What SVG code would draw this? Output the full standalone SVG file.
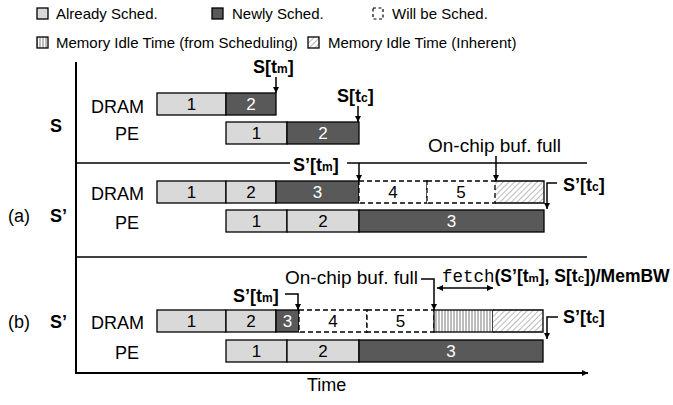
<svg xmlns="http://www.w3.org/2000/svg" width="673" height="405" viewBox="0 0 673 405">
  <defs>
    <marker id="ah" viewBox="0 0 10 10" refX="10" refY="5" markerWidth="7" markerHeight="6" markerUnits="userSpaceOnUse" orient="auto-start-reverse">
      <path d="M0,0 L10,5 L0,10 z" fill="#000"/>
    </marker>
    <pattern id="hatch" width="4" height="4" patternUnits="userSpaceOnUse" patternTransform="rotate(45)">
      <rect width="4" height="4" fill="#fff"/>
      <line x1="0" y1="0" x2="0" y2="4" stroke="#8c8c8c" stroke-width="1.2"/>
    </pattern>
    <pattern id="vstripe" width="3" height="4" patternUnits="userSpaceOnUse">
      <rect width="3" height="4" fill="#fff"/>
      <line x1="1" y1="0" x2="1" y2="4" stroke="#7a7a7a" stroke-width="1"/>
    </pattern>
  </defs>
  <style>
    text { font-family: "Liberation Sans", Arial, sans-serif; fill: #000; }
    .lg { font-size: 15px; }
    .lb { font-size: 18px; }
    .oc { font-size: 19px; }
    .bd { font-weight: bold; }
    .num { font-size: 17px; text-anchor: middle; }
    .wt { fill: #fff; }
    .mono { font-family: "Liberation Mono", "Courier New", monospace; }
    .old { fill: #d9d9d9; stroke: #000; stroke-width: 1.3; }
    .new { fill: #595959; stroke: #000; stroke-width: 1.3; }
    .will { fill: #fff; stroke: #000; stroke-width: 1.3; stroke-dasharray: 5 3; }
    .hat { fill: url(#hatch); stroke: none; }
    .vs { fill: url(#vstripe); stroke: #000; stroke-width: 1.3; }
    .edge { fill: none; stroke: #000; stroke-width: 1.3; }
    .ax { stroke: #000; stroke-width: 2; fill: none; }
    .sep { stroke: #000; stroke-width: 1.5; fill: none; }
    .ar { stroke: #000; stroke-width: 1.5; fill: none; marker-end: url(#ah); }
  </style>

  <!-- legend -->
  <g id="legend">
    <rect x="37" y="8" width="11" height="11" class="old"/>
    <text x="56" y="19" class="lg">Already Sched.</text>
    <rect x="212" y="8" width="11" height="11" class="new"/>
    <text x="232" y="19" class="lg">Newly Sched.</text>
    <rect x="373" y="8" width="10" height="11" fill="#fff" stroke="#000" stroke-width="1.2" stroke-dasharray="3 2.5"/>
    <text x="392" y="19" class="lg">Will be Sched.</text>
    <rect x="37" y="37" width="11" height="11" class="vs"/>
    <text x="56" y="48" class="lg">Memory Idle Time (from Scheduling)</text>
    <rect x="308" y="37" width="11" height="11" fill="url(#hatch)" stroke="#000" stroke-width="1.3"/>
    <text x="328" y="48" class="lg">Memory Idle Time (Inherent)</text>
  </g>

  <!-- frame: time axis, row axis, section dividers -->
  <g id="axes">
    <line x1="76" y1="62" x2="76" y2="373" class="ax"/>
    <line x1="75" y1="373" x2="588" y2="373" class="ax" marker-end="url(#ah)"/>
    <line x1="76" y1="163" x2="587" y2="163" class="sep"/>
    <line x1="76" y1="257" x2="587" y2="257" class="sep"/>
    <text x="307" y="391" class="lb">Time</text>
  </g>

  <!-- row / schedule labels -->
  <g id="row-labels">
    <text x="50" y="132" class="lb bd">S</text>
    <text x="91" y="113" class="lb">DRAM</text>
    <text x="115" y="140" class="lb">PE</text>
    <text x="8" y="222" class="lb">(a)</text>
    <text x="50" y="222" class="lb bd">S’</text>
    <text x="91" y="200" class="lb">DRAM</text>
    <text x="115" y="229" class="lb">PE</text>
    <text x="8" y="328" class="lb">(b)</text>
    <text x="50" y="328" class="lb bd">S’</text>
    <text x="91" y="329" class="lb">DRAM</text>
    <text x="115" y="359" class="lb">PE</text>
  </g>

  <!-- schedule S -->
  <g id="s-dram">
    <rect x="157" y="93" width="69" height="22" class="old"/><text x="191.5" y="110" class="num">1</text>
    <rect x="226" y="93" width="50" height="22" class="new"/><text x="251" y="110" class="num wt">2</text>
  </g>
  <g id="s-pe">
    <rect x="226" y="122" width="61" height="22" class="old"/><text x="256.5" y="139" class="num">1</text>
    <rect x="287" y="122" width="72" height="22" class="new"/><text x="323" y="139" class="num wt">2</text>
  </g>

  <!-- schedule S' (a) -->
  <g id="a-dram">
    <rect x="157" y="181" width="69" height="22" class="old"/><text x="191.5" y="198" class="num">1</text>
    <rect x="226" y="181" width="50" height="22" class="old"/><text x="251" y="198" class="num">2</text>
    <rect x="276" y="181" width="83" height="22" class="new"/><text x="317.5" y="198" class="num wt">3</text>
    <rect x="495" y="181" width="49" height="22" class="hat"/>
    <path d="M495,181 H544 V203 H495" class="edge"/>
    <rect x="359" y="181" width="68" height="22" class="will"/><text x="393" y="198" class="num">4</text>
    <rect x="427" y="181" width="68" height="22" class="will"/><text x="461" y="198" class="num">5</text>
  </g>
  <g id="a-pe">
    <rect x="226" y="210" width="61" height="22" class="old"/><text x="256.5" y="227" class="num">1</text>
    <rect x="287" y="210" width="72" height="22" class="old"/><text x="323" y="227" class="num">2</text>
    <rect x="359" y="210" width="185" height="22" class="new"/><text x="451.5" y="227" class="num wt">3</text>
  </g>

  <!-- schedule S' (b) -->
  <g id="b-dram">
    <rect x="157" y="310" width="69" height="22" class="old"/><text x="191.5" y="327" class="num">1</text>
    <rect x="226" y="310" width="50" height="22" class="old"/><text x="251" y="327" class="num">2</text>
    <rect x="276" y="310" width="23" height="22" class="new"/><text x="287.5" y="327" class="num wt">3</text>
    <rect x="299" y="310" width="68" height="22" class="will"/><text x="333" y="327" class="num">4</text>
    <rect x="367" y="310" width="67" height="22" class="will"/><text x="400.5" y="327" class="num">5</text>
    <rect x="434" y="310" width="59" height="22" class="vs"/>
    <rect x="493" y="310" width="50" height="22" class="hat"/>
    <path d="M493,310 H543 V332 H493" class="edge"/>
  </g>
  <g id="b-pe">
    <rect x="226" y="340" width="61" height="22" class="old"/><text x="256.5" y="357" class="num">1</text>
    <rect x="287" y="340" width="72" height="22" class="old"/><text x="323" y="357" class="num">2</text>
    <rect x="359" y="340" width="184" height="22" class="new"/><text x="451" y="357" class="num wt">3</text>
  </g>

  <!-- time-point markers -->
  <g id="connectors">
    <line x1="276" y1="77" x2="276" y2="93" class="ar"/>
    <line x1="358" y1="106" x2="358" y2="122" class="ar"/>
    <line x1="359" y1="163" x2="359" y2="181" class="ar"/>
    <line x1="496" y1="156" x2="496" y2="181" class="ar"/>
    <path d="M557,183 H547 V209" class="ar"/>
    <path d="M285,294 H298 V310" class="ar"/>
    <path d="M421,279 H434 V310" class="ar"/>
    <line x1="437" y1="288" x2="493" y2="288" class="ar" marker-start="url(#ah)"/>
    <path d="M558,317 H547 V339" class="ar"/>
  </g>

  <!-- marker labels -->
  <g id="marker-labels">
    <text x="253" y="73" class="lb bd">S[t<tspan font-size="12">m</tspan>]</text>
    <text x="337" y="102" class="lb bd">S[t<tspan font-size="12">c</tspan>]</text>
    <rect x="290" y="154" width="57" height="18" fill="#fff"/>
    <text x="293" y="171" class="lb bd">S’[t<tspan font-size="12">m</tspan>]</text>
    <text x="428" y="152" class="oc">On-chip buf. full</text>
    <text x="563" y="191" class="lb bd">S’[t<tspan font-size="12">c</tspan>]</text>
    <text x="233" y="302" class="lb bd">S’[t<tspan font-size="12">m</tspan>]</text>
    <text x="285" y="284" class="oc">On-chip buf. full</text>
    <text x="442" y="282" font-size="17.5"><tspan class="mono">fetch</tspan><tspan class="bd">(S’[t<tspan font-size="11.5">m</tspan>], S[t<tspan font-size="11.5">c</tspan>])/MemBW</tspan></text>
    <text x="563" y="323" class="lb bd">S’[t<tspan font-size="12">c</tspan>]</text>
  </g>
</svg>
